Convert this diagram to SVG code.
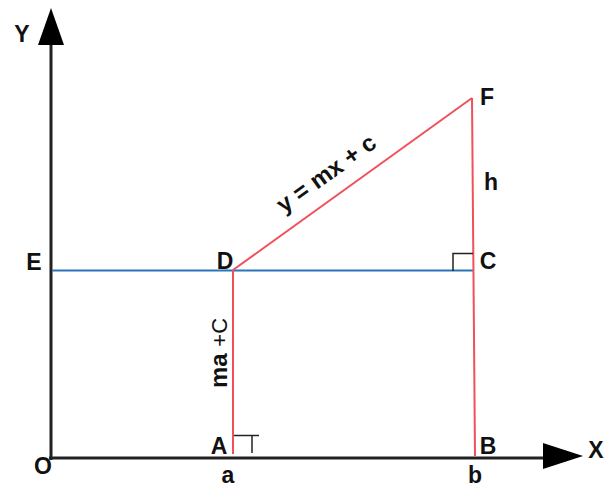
<svg xmlns="http://www.w3.org/2000/svg" width="605" height="487" viewBox="0 0 605 487">
<style>
.lbl{font-family:"Liberation Sans",Arial,sans-serif;font-weight:bold;font-size:23px;fill:#111}
.big{font-size:24px}
.axis{stroke:#222;stroke-width:3;fill:none}
.red{stroke:#f0505c;stroke-width:2;fill:none}
.blue{stroke:#2a74b8;stroke-width:2;fill:none}
.ra{stroke:#222;stroke-width:1.5;fill:none}
</style>
<rect width="605" height="487" fill="#fff"/>
<g id="connectors">
<line class="axis" x1="51" y1="460" x2="51" y2="42"/>
<polygon points="51,8 38,45 64,45" fill="#000"/>
<line class="axis" x1="49" y1="458" x2="546" y2="458"/>
<polygon points="583,456 543,443 543,469" fill="#000"/>
<line class="blue" x1="52" y1="270.5" x2="473" y2="270.5"/>
<line class="red" x1="233" y1="270" x2="233" y2="454"/>
<line class="red" x1="233" y1="270" x2="472" y2="98"/>
<line class="red" x1="472" y1="98" x2="475" y2="456"/>
<polyline class="ra" points="234,435.5 259,435.5"/>
<polyline class="ra" points="252,435.5 252,453"/>
<polyline class="ra" points="453,271 453,253.5 473,253.5"/>
</g>
<g id="axis-labels">
<text class="lbl" x="22" y="42" text-anchor="middle">Y</text>
<text class="lbl" x="596" y="458" text-anchor="middle">X</text>
<text class="lbl" x="43" y="474" text-anchor="middle">O</text>
</g>
<g id="node-A"><text class="lbl" x="219" y="454" text-anchor="middle">A</text></g>
<g id="node-a"><text class="lbl" x="228" y="483" text-anchor="middle">a</text></g>
<g id="node-B"><text class="lbl" x="488" y="454" text-anchor="middle">B</text></g>
<g id="node-b"><text class="lbl" x="475" y="483" text-anchor="middle">b</text></g>
<g id="node-C"><text class="lbl" x="488" y="269" text-anchor="middle">C</text></g>
<g id="node-D"><text class="lbl" x="225" y="269" text-anchor="middle">D</text></g>
<g id="node-E"><text class="lbl" x="34" y="270" text-anchor="middle">E</text></g>
<g id="node-F"><text class="lbl" x="487" y="105" text-anchor="middle">F</text></g>
<g id="label-h"><text class="lbl" x="491" y="190" text-anchor="middle">h</text></g>
<g id="label-line"><text class="lbl big" x="0" y="0" text-anchor="middle" transform="translate(331,180) rotate(-35.7)">y = mx + c</text></g>
<g id="label-ma"><text class="lbl big" x="0" y="0" text-anchor="middle" transform="translate(227,353) rotate(-90)">ma <tspan font-weight="normal" font-size="22">+C</tspan></text></g>
</svg>
